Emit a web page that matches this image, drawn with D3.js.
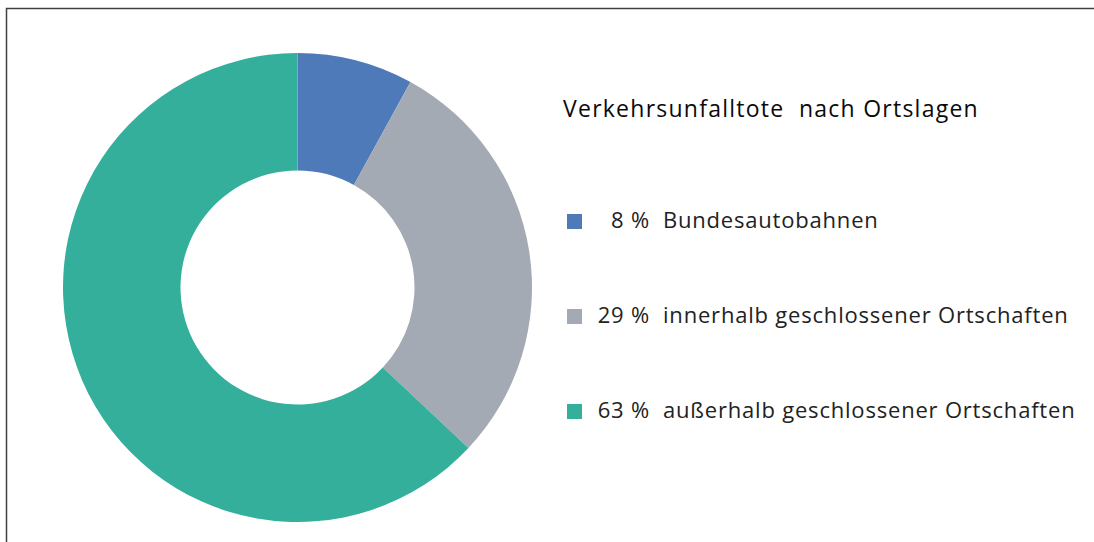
<!DOCTYPE html>
<html>
<head>
<meta charset="utf-8">
<script src="https://cdn.jsdelivr.net/npm/d3@7"></script>
<style>
  body { margin: 0; background: #fff; }
  text { font-family: "Open Sans", Lato, sans-serif; }
</style>
</head>
<body>
<div id="chart"></div>
<script>
// Data
var categories = ["Bundesautobahnen", "innerhalb geschlossener Ortschaften", "außerhalb geschlossener Ortschaften"];
var shares = [8, 29, 63];
var shareLabels = ["8 %", "29 %", "63 %"];
var colors = ["#4f7aba", "#a4aab3", "#33af9c"];
var title = "Verkehrsunfalltote  nach Ortslagen";

var svgWidth = 1094;
var svgHeight = 542;

var svg = d3.select("#chart")
  .append("svg")
  .attr("width", svgWidth)
  .attr("height", svgHeight);

// frame (top and left edge visible)
svg.append("path")
  .attr("d", "M6.5,542 L6.5,8.5 L1094,8.5")
  .attr("fill", "none")
  .attr("stroke", "#404040")
  .attr("stroke-width", 1.5);

// Donut
var outerR = 234.5;
var innerR = 117;

var pie = d3.pie().sort(null).value(d => d);
var arc = d3.arc().innerRadius(innerR).outerRadius(outerR);

var donut = svg.append("g")
  .attr("transform", "translate(297.5, 287.5)");

donut.selectAll("path")
  .data(pie(shares))
  .enter()
  .append("path")
  .attr("d", arc)
  .attr("fill", (d, i) => colors[i]);

// Title
svg.append("text")
  .attr("x", 563)
  .attr("y", 117)
  .attr("font-size", 23)
  .attr("letter-spacing", 1.25)
  .attr("fill", "#0a0a0a")
  .style("white-space", "pre")
  .text(title);

// Legend
var yScale = d3.scalePoint()
  .domain(categories)
  .range([228, 418]);

var legend = svg.selectAll("g.legend")
  .data(categories)
  .enter()
  .append("g")
  .attr("class", "legend")
  .attr("transform", d => `translate(0, ${yScale(d)})`);

legend.append("rect")
  .attr("x", 567)
  .attr("y", -14)
  .attr("width", 15)
  .attr("height", 15)
  .attr("fill", (d, i) => colors[i]);

legend.append("text")
  .attr("x", 650)
  .attr("text-anchor", "end")
  .attr("font-size", 22)
  .attr("letter-spacing", 0.8)
  .attr("fill", "#222")
  .text((d, i) => shareLabels[i]);

legend.append("text")
  .attr("x", 663)
  .attr("font-size", 22)
  .attr("letter-spacing", 0.8)
  .attr("fill", "#222")
  .text(d => d);
</script>
</body>
</html>
